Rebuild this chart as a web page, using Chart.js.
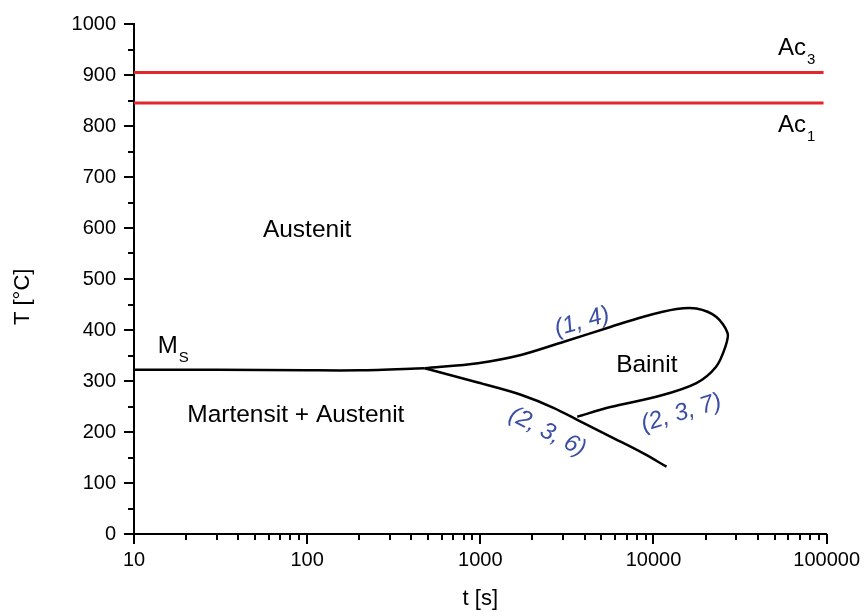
<!DOCTYPE html>
<html>
<head>
<meta charset="utf-8">
<script src="https://cdn.jsdelivr.net/npm/chart.js@4.4.0/dist/chart.umd.min.js"></script>
<style>
  html, body { margin: 0; padding: 0; background: #fff; }
  #wrap { width: 864px; height: 612px; }
</style>
</head>
<body>
<div id="wrap"><canvas id="ttt" width="864" height="612"></canvas></div>
<script>
// axis ticks: time in s (log), temperature in °C
const xMajorTicks = [10, 100, 1000, 10000, 100000];
const yMajorTicks = [0, 100, 200, 300, 400, 500, 600, 700, 800, 900, 1000];

// Ac3 / Ac1 transformation temperatures
const acTime = [10, 96000];
const ac3Temp = [905, 905];
const ac1Temp = [845, 845];

// martensite start line
const msTime = [10, 30, 100, 200, 478];
const msTemp = [322, 322, 321, 321, 325];

// bainite field: upper branch (1, 4) round the nose down to (2, 3, 7)
const bainitTime = [478, 968, 1715, 3040, 5640, 8750, 13600, 17700, 23000, 26800, 26000, 23000, 17700, 10900, 5640, 3630];
const bainitTemp = [325, 335, 351, 377, 406, 426, 441, 442, 426, 394, 367, 328, 296, 271, 249, 230];

// lower branch (2, 3, 6)
const lowerTime = [478, 968, 1715, 2665, 3630, 5640, 8750, 11900];
const lowerTemp = [325, 297, 273, 247, 224, 191, 158, 132];

const pts = (xs, ys) => xs.map((x, i) => ({ x: x, y: ys[i] }));

const FONT = "'Liberation Sans', Arial, sans-serif";
const BLUE = '#3b4ea6';

// outward tick marks, long for labelled ticks, short for the rest
const tickMarks = {
  id: 'tickMarks',
  afterDraw(chart) {
    const ctx = chart.ctx;
    const { x, y } = chart.scales;
    ctx.save();
    ctx.strokeStyle = '#000';
    ctx.lineWidth = 2;
    x.ticks.forEach(t => {
      const px = Math.round(x.getPixelForValue(t.value));
      const len = xMajorTicks.includes(t.value) ? 10 : 6;
      ctx.beginPath();
      ctx.moveTo(px, x.top);
      ctx.lineTo(px, x.top + len);
      ctx.stroke();
    });
    y.ticks.forEach(t => {
      const py = Math.round(y.getPixelForValue(t.value));
      const len = yMajorTicks.includes(t.value) ? 10 : 6;
      ctx.beginPath();
      ctx.moveTo(y.right, py);
      ctx.lineTo(y.right - len, py);
      ctx.stroke();
    });

    // y axis title, sits a little below the middle of the axis
    ctx.fillStyle = '#000';
    ctx.font = '22px ' + FONT;
    ctx.textAlign = 'center';
    ctx.textBaseline = 'middle';
    ctx.translate(23, y.getPixelForValue(465));
    ctx.rotate(-Math.PI / 2);
    ctx.fillText('T [°C]', 0, 0);
    ctx.restore();
  }
};

// text with a subscript, anchored at its left baseline
function subText(ctx, x, y, main, sub) {
  ctx.font = '24px ' + FONT;
  ctx.textAlign = 'left';
  ctx.textBaseline = 'alphabetic';
  ctx.fillText(main, x, y);
  const w = ctx.measureText(main).width;
  ctx.font = '15px ' + FONT;
  ctx.fillText(sub, x + w + 1, y + 9);
}

// region names and curve labels, placed in data coordinates
const labels = {
  id: 'labels',
  afterDatasetsDraw(chart) {
    const ctx = chart.ctx;
    const { x, y } = chart.scales;
    const px = v => x.getPixelForValue(v);
    const py = v => y.getPixelForValue(v);
    ctx.save();
    ctx.fillStyle = '#000';
    ctx.font = '24.5px ' + FONT;
    ctx.textAlign = 'center';
    ctx.textBaseline = 'middle';
    ctx.fillText('Austenit', px(100), py(595));
    ctx.fillText('Martensit + Austenit', px(86), py(233));
    ctx.fillText('Bainit', px(9150), py(331));

    subText(ctx, px(13.7), py(355), 'M', 'S');
    subText(ctx, px(52300), py(939), 'Ac', '3');
    subText(ctx, px(52300), py(788), 'Ac', '1');

    ctx.fillStyle = BLUE;
    ctx.font = 'italic 24px ' + FONT;
    ctx.textAlign = 'center';
    ctx.textBaseline = 'middle';
    [['(1, 4)', 3870, 416, -16], ['(2, 3, 6)', 2440, 200, 27], ['(2, 3, 7)', 14500, 237, -17]]
      .forEach(([t, tx, ty, rot]) => {
        ctx.save();
        ctx.translate(px(tx), py(ty));
        ctx.rotate(rot * Math.PI / 180);
        ctx.fillText(t, 0, 0);
        ctx.restore();
      });
    ctx.restore();
  }
};

const line = (data, color, width, extra) => Object.assign({
  data: data,
  showLine: true,
  borderColor: color,
  borderWidth: width,
  pointRadius: 0,
  tension: 0.3,
  fill: false
}, extra || {});

new Chart(document.getElementById('ttt'), {
  type: 'scatter',
  data: {
    datasets: [
      line(pts(acTime, ac3Temp), '#e3262b', 3),
      line(pts(acTime, ac1Temp), '#e3262b', 3),
      line(pts(msTime, msTemp), '#000', 2.5),
      line(pts(bainitTime, bainitTemp), '#000', 2.5),
      line(pts(lowerTime, lowerTemp), '#000', 2.5, { cubicInterpolationMode: 'monotone' })
    ]
  },
  options: {
    responsive: false,
    animation: false,
    layout: { padding: { top: 24, right: 33, left: 0, bottom: 0 } },
    plugins: { legend: { display: false }, tooltip: { enabled: false } },
    scales: {
      x: {
        type: 'logarithmic',
        min: 10,
        max: 100000,
        afterFit: s => { s.height = 78; },
        afterBuildTicks: s => {
          const ticks = [];
          xMajorTicks.forEach((d, i) => {
            ticks.push({ value: d });
            if (i < xMajorTicks.length - 1) {
              for (let m = 2; m <= 9; m++) ticks.push({ value: d * m });
            }
          });
          s.ticks = ticks;
        },
        border: { display: true, color: '#000', width: 2 },
        grid: { drawOnChartArea: false, drawTicks: true, tickLength: 10, tickColor: 'rgba(0,0,0,0)' },
        ticks: {
          autoSkip: false,
          maxRotation: 0,
          padding: 4,
          color: '#000',
          font: { family: FONT, size: 20 },
          callback: v => xMajorTicks.includes(v) ? String(v) : ''
        },
        title: {
          display: true,
          text: 't [s]',
          color: '#000',
          font: { family: FONT, size: 22 },
          padding: { top: 0, bottom: 0 }
        }
      },
      y: {
        min: 0,
        max: 1000,
        afterFit: s => { s.width = 134; },
        border: { display: true, color: '#000', width: 2 },
        grid: { drawOnChartArea: false, drawTicks: true, tickLength: 10, tickColor: 'rgba(0,0,0,0)' },
        ticks: {
          stepSize: 50,
          autoSkip: false,
          padding: 8,
          color: '#000',
          font: { family: FONT, size: 20 },
          callback: v => yMajorTicks.includes(v) ? String(v) : ''
        }
      }
    }
  },
  plugins: [tickMarks, labels]
});
</script>
</body>
</html>
